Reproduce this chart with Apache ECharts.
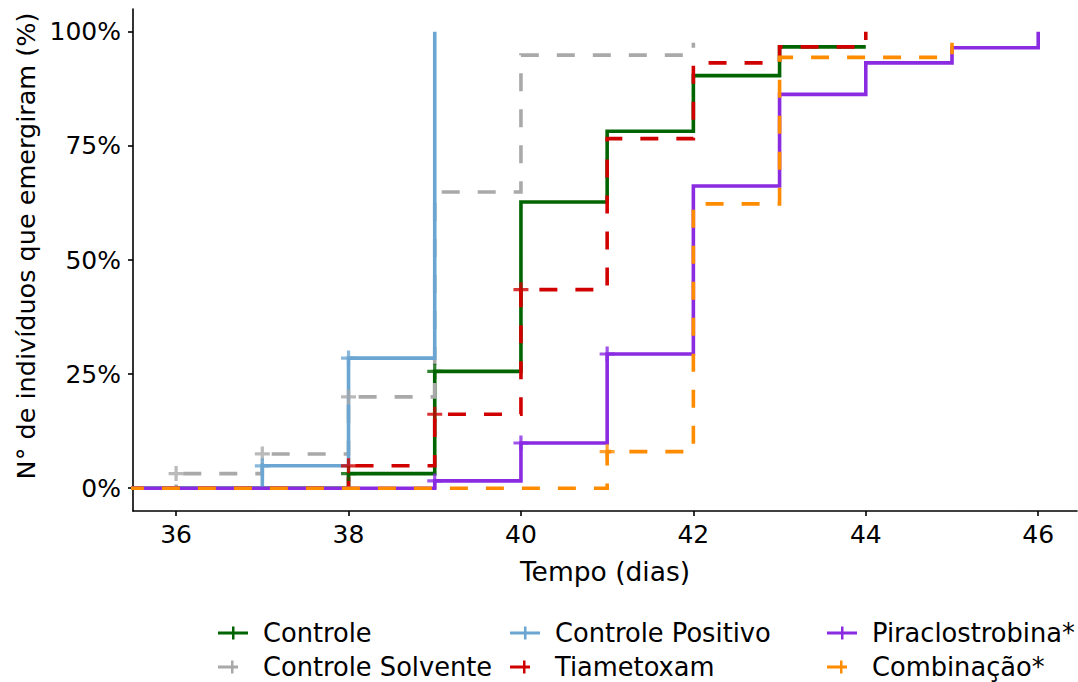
<!DOCTYPE html>
<html><head><meta charset="utf-8">
<script src="https://cdn.jsdelivr.net/npm/echarts@6/dist/echarts.min.js"></script>
<style>html,body{margin:0;padding:0;background:#fff}#c{width:1078px;height:682px}</style>
</head><body><div id="c"></div>
<script>
// ---- data ----
const seriesNames = ['Controle', 'Controle Solvente', 'Controle Positivo', 'Tiametoxam', 'Piraclostrobina*', 'Combinação*'];
const xTicks = [36, 38, 40, 42, 44, 46];
const yTicks = [0, 25, 50, 75, 100];

const ctrlT = [35, 38, 39, 40, 41, 42, 43, 44];
const ctrlV = [0, 3.2, 25.6, 62.7, 78.2, 90.4, 96.7, 96.7];
const ctrlCensor = [38, 39];

const solvT = [35, 36, 37, 38, 39, 40, 42];
const solvV = [0, 3.2, 7.5, 20.0, 64.9, 94.9, 97.6];
const solvCensor = [36, 37, 38];

const posT = [35, 37, 38, 39];
const posV = [0, 4.9, 28.5, 100];
const posCensor = [37, 38];

const tiaT = [35, 38, 39, 40, 41, 42, 43, 44];
const tiaV = [0, 4.9, 16.2, 43.5, 76.6, 93.2, 96.7, 100];
const tiaCensor = [38, 39, 40];

const piraT = [35, 39, 40, 41, 42, 43, 44, 45, 46];
const piraV = [0, 1.6, 9.9, 29.4, 66.2, 86.3, 93.2, 96.5, 100];
const piraCensor = [39, 40, 41];

const combT = [35, 41, 42, 43, 45];
const combV = [0, 8.0, 62.3, 94.4, 97.6];
const combCensor = [41];

// ---- styling ----
const FONT = 'DejaVu Sans';
const colors = ['#006400', '#A9A9A9', '#6BA6D2', '#D10000', '#8A2BE2', '#FF8C00'];
const dashed = [false, true, false, true, false, true];
const times = [ctrlT, solvT, posT, tiaT, piraT, combT];
const vals = [ctrlV, solvV, posV, tiaV, piraV, combV];
const censors = [ctrlCensor, solvCensor, posCensor, tiaCensor, piraCensor, combCensor];
const legendCol = [0, 0, 1, 1, 2, 2];
const legendRow = [0, 1, 0, 1, 0, 1];
const colX = [213, 505, 822];
const rowY = [632, 666];

function valueAt(T, V, t) {
  let v = V[0];
  for (let i = 0; i < T.length; i++) if (T[i] <= t) v = V[i];
  return v;
}

const plusSym = 'path://M0,5.5H14V8.5H0Z M5.5,0H8.5V14H5.5Z';
const series = [];
seriesNames.forEach((name, i) => {
  series.push({
    name: name, type: 'line', step: 'end', showSymbol: false, symbol: 'none',
    data: times[i].map((t, k) => [t, vals[i][k]]),
    lineStyle: { color: colors[i], width: 3.6, type: dashed[i] ? [18, 18] : 'solid', cap: 'butt', join: 'miter' },
    itemStyle: { color: colors[i] },
    z: 2 + i, animation: false, silent: true
  });
});
seriesNames.forEach((name, i) => {
  series.push({
    name: name, type: 'scatter', symbol: plusSym, symbolSize: 15,
    data: censors[i].map(t => [t, valueAt(times[i], vals[i], t)]),
    itemStyle: { color: colors[i] },
    z: 10 + i, animation: false, silent: true
  });
});

const legends = seriesNames.map((name, i) => {
  const w = dashed[i] ? 20 : 30;
  const icon = dashed[i]
    ? 'path://M0,5.5H20V8.5H0Z M13,0.5H15.5V13.5H13Z'
    : 'path://M0,5.5H30V8.5H0Z M14,0.5H16.5V13.5H14Z';
  return {
    data: [{ name: name, icon: icon }],
    left: colX[legendCol[i]], top: rowY[legendRow[i]] - 17,
    itemWidth: w, itemHeight: 14, selectedMode: false,
    textStyle: { fontFamily: FONT, fontSize: 25.7, color: '#000', padding: [0, 0, 0, 45 - w - 5] }
  };
});

const chart = echarts.init(document.getElementById('c'), null, { renderer: 'svg' });
chart.setOption({
  backgroundColor: '#fff',
  animation: false,
  textStyle: { fontFamily: FONT },
  grid: { left: 133, right: 1, top: 9, bottom: 171, containLabel: false },
  legend: legends,
  xAxis: {
    type: 'value', min: 35.5, max: 46.45,
    name: 'Tempo (dias)', nameLocation: 'middle', nameGap: 47,
    nameTextStyle: { fontFamily: FONT, fontSize: 26.5, color: '#000' },
    axisLine: { show: true, onZero: false, lineStyle: { color: '#000', width: 1.6 } },
    axisTick: { show: true, length: 5, lineStyle: { color: '#000', width: 1.6 }, customValues: xTicks },
    axisLabel: { fontFamily: FONT, fontSize: 25, color: '#000', margin: 11, customValues: xTicks },
    splitLine: { show: false }
  },
  yAxis: {
    type: 'value', min: -5, max: 105,
    name: 'N° de indivíduos que emergiram (%)', nameLocation: 'middle', nameGap: 90,
    nameTextStyle: { fontFamily: FONT, fontSize: 25.5, color: '#000', padding: [0, 0, 0, 28] },
    axisLine: { show: true, onZero: false, lineStyle: { color: '#000', width: 1.6 } },
    axisTick: { show: true, length: 5, lineStyle: { color: '#000', width: 1.6 }, customValues: yTicks },
    axisLabel: { fontFamily: FONT, fontSize: 25, color: '#000', margin: 12, customValues: yTicks, formatter: v => v + '%' },
    splitLine: { show: false }
  },
  series: series
});
</script>
</body></html>
